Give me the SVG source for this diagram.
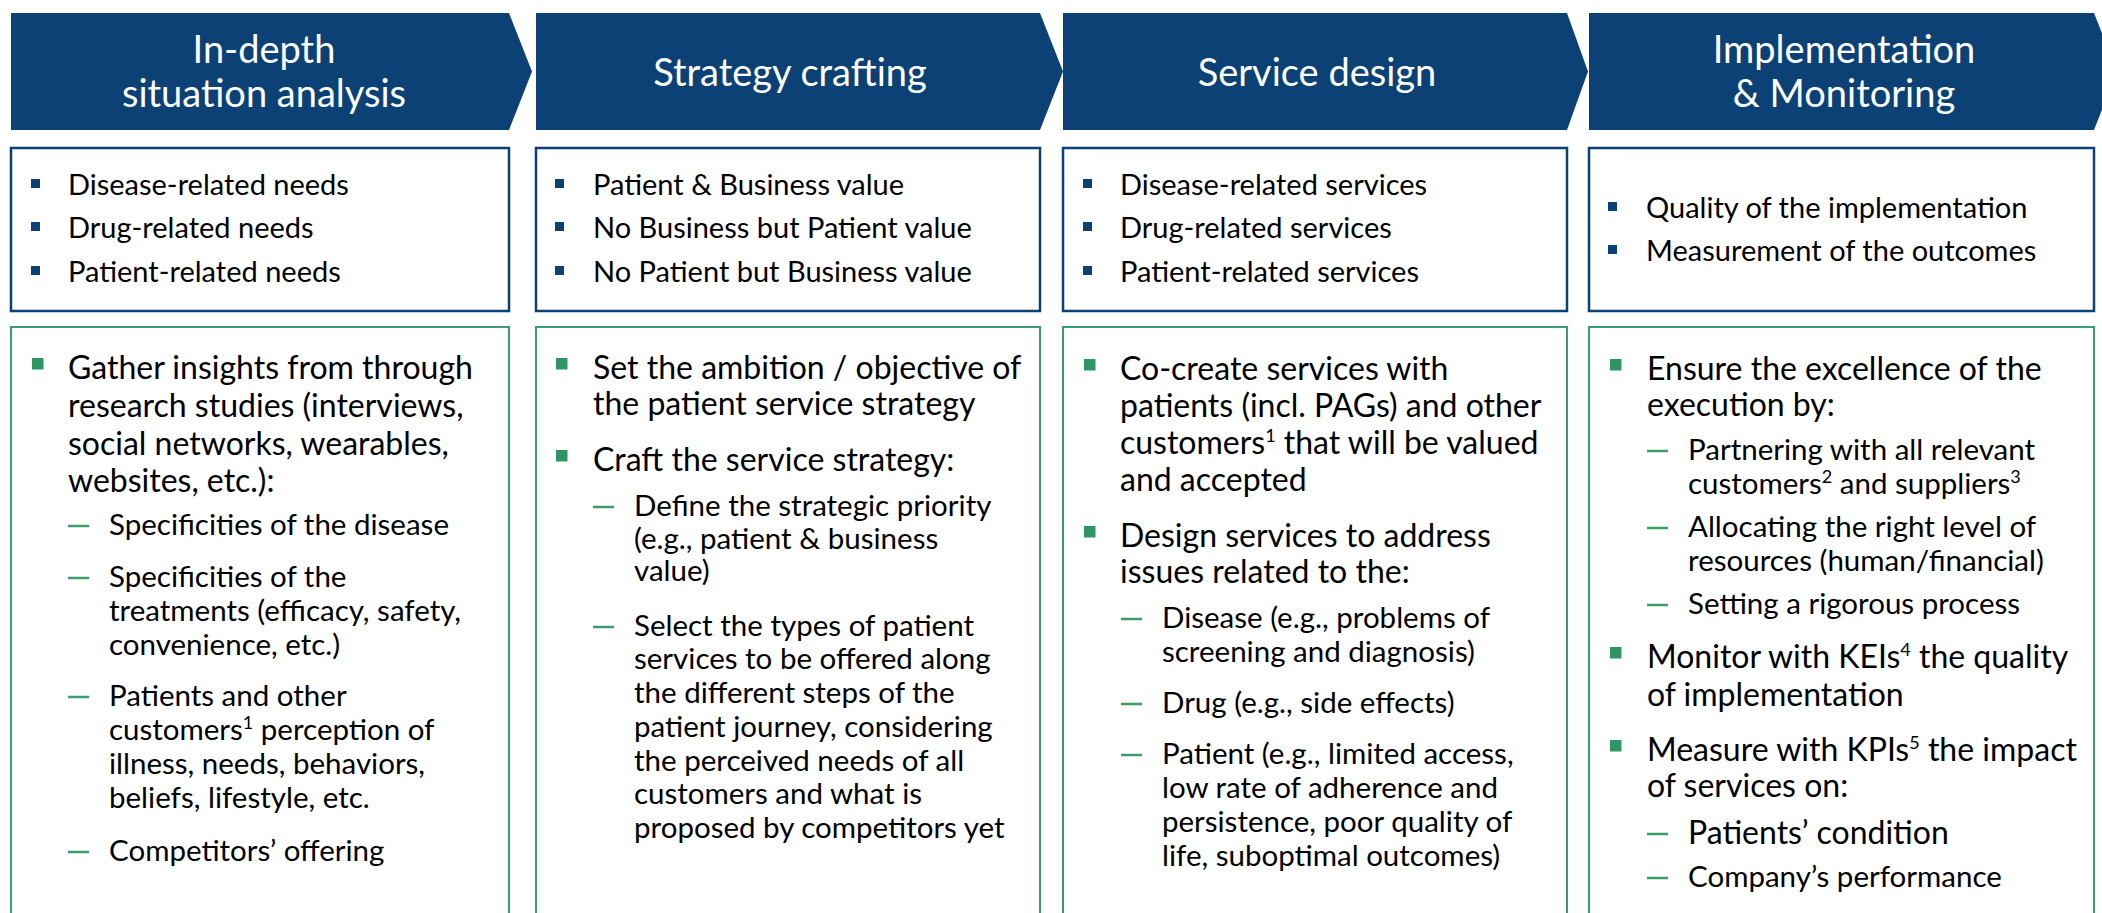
<svg xmlns="http://www.w3.org/2000/svg" width="2102" height="913" viewBox="0 0 2102 913">
<style>
.hdr{fill:#0b4174}
.ht{font-family:Lato,"Open Sans","Liberation Sans",sans-serif;font-size:38px;fill:#fff;text-anchor:middle}
.tb{fill:#fff;stroke:#0b4174;stroke-width:2.5}
.gbx{fill:#fff;stroke:#3a9d6c;stroke-width:2}
.t{font-family:Lato,"Open Sans","Liberation Sans",sans-serif;fill:#000}
.tt{font-size:29px}
.m{font-size:32px}
.s{font-size:29.5px}
.nb{fill:#0b4174}
.gb{fill:#2f9566}
.d{stroke:#3a9d6c;stroke-width:2.5}
.sup{font-size:18px}
</style>
<rect width="2102" height="913" fill="#fff"/>
<g id="connectors"/>

<g id="col1">
  <g id="chevron1">
    <path class="hdr" d="M11,13H509L532,71.5L509,130H11Z"/>
    <text class="ht"><tspan x="264" y="63">In-depth</tspan><tspan x="264" y="107">situation analysis</tspan></text>
  </g>
  <g id="topbox1">
    <rect class="tb" x="11" y="148" width="498" height="163"/>
    <rect class="nb" x="31" y="179" width="9" height="9"/>
    <rect class="nb" x="31" y="222" width="9" height="9"/>
    <rect class="nb" x="31" y="266" width="9" height="9"/>
    <text class="t tt" x="68" y="195">Disease-related needs</text>
    <text class="t tt" x="68" y="238">Drug-related needs</text>
    <text class="t tt" x="68" y="282">Patient-related needs</text>
  </g>
  <g id="greenbox1">
    <rect class="gbx" x="11" y="327" width="498" height="610"/>
    <rect class="gb" x="32" y="358" width="11.5" height="11.5"/>
    <text class="t m"><tspan x="68" y="379">Gather insights from through</tspan><tspan x="68" y="417">research studies (interviews,</tspan><tspan x="68" y="455">social networks, wearables,</tspan><tspan x="68" y="492">websites, etc.):</tspan></text>
    <line class="d" x1="68" y1="526" x2="89" y2="526"/>
    <text class="t s" x="109" y="535">Specificities of the disease</text>
    <line class="d" x1="68" y1="578" x2="89" y2="578"/>
    <text class="t s"><tspan x="109" y="587">Specificities of the</tspan><tspan x="109" y="621">treatments (efficacy, safety,</tspan><tspan x="109" y="655">convenience, etc.)</tspan></text>
    <line class="d" x1="68" y1="697" x2="89" y2="697"/>
    <text class="t s"><tspan x="109" y="706">Patients and other</tspan><tspan x="109" y="740">customers<tspan class="sup" dy="-11">1</tspan><tspan dy="11"> perception of</tspan></tspan><tspan x="109" y="774">illness, needs, behaviors,</tspan><tspan x="109" y="808">beliefs, lifestyle, etc.</tspan></text>
    <line class="d" x1="68" y1="852" x2="89" y2="852"/>
    <text class="t s" x="109" y="861">Competitors’ offering</text>
  </g>
</g>

<g id="col2">
  <g id="chevron2">
    <path class="hdr" d="M536,13H1040L1063,71.5L1040,130H536Z"/>
    <text class="ht" x="790" y="86">Strategy crafting</text>
  </g>
  <g id="topbox2">
    <rect class="tb" x="536" y="148" width="504" height="163"/>
    <rect class="nb" x="555" y="179" width="9" height="9"/>
    <rect class="nb" x="555" y="222" width="9" height="9"/>
    <rect class="nb" x="555" y="266" width="9" height="9"/>
    <text class="t tt" x="593" y="195">Patient &amp; Business value</text>
    <text class="t tt" x="593" y="238">No Business but Patient value</text>
    <text class="t tt" x="593" y="282">No Patient but Business value</text>
  </g>
  <g id="greenbox2">
    <rect class="gbx" x="536" y="327" width="504" height="610"/>
    <rect class="gb" x="556" y="358" width="11.5" height="11.5"/>
    <text class="t m"><tspan x="593" y="379">Set the ambition / objective of</tspan><tspan x="593" y="415">the patient service strategy</tspan></text>
    <rect class="gb" x="556" y="450" width="11.5" height="11.5"/>
    <text class="t m" x="593" y="471">Craft the service strategy:</text>
    <line class="d" x1="593" y1="507" x2="614" y2="507"/>
    <text class="t s"><tspan x="634" y="516">Define the strategic priority</tspan><tspan x="634" y="549">(e.g., patient &amp; business</tspan><tspan x="634" y="581">value)</tspan></text>
    <line class="d" x1="593" y1="627" x2="614" y2="627"/>
    <text class="t s"><tspan x="634" y="636">Select the types of patient</tspan><tspan x="634" y="669">services to be offered along</tspan><tspan x="634" y="703">the different steps of the</tspan><tspan x="634" y="737">patient journey, considering</tspan><tspan x="634" y="771">the perceived needs of all</tspan><tspan x="634" y="804">customers and what is</tspan><tspan x="634" y="838">proposed by competitors yet</tspan></text>
  </g>
</g>

<g id="col3">
  <g id="chevron3">
    <path class="hdr" d="M1063,13H1567L1588,71.5L1567,130H1063Z"/>
    <text class="ht" x="1317" y="86">Service design</text>
  </g>
  <g id="topbox3">
    <rect class="tb" x="1063" y="148" width="504" height="163"/>
    <rect class="nb" x="1083" y="179" width="9" height="9"/>
    <rect class="nb" x="1083" y="222" width="9" height="9"/>
    <rect class="nb" x="1083" y="266" width="9" height="9"/>
    <text class="t tt" x="1120" y="195">Disease-related services</text>
    <text class="t tt" x="1120" y="238">Drug-related services</text>
    <text class="t tt" x="1120" y="282">Patient-related services</text>
  </g>
  <g id="greenbox3">
    <rect class="gbx" x="1063" y="327" width="504" height="610"/>
    <rect class="gb" x="1084" y="359" width="11.5" height="11.5"/>
    <text class="t m"><tspan x="1120" y="380">Co-create services with</tspan><tspan x="1120" y="417">patients (incl. PAGs) and other</tspan><tspan x="1120" y="454">customers<tspan class="sup" dy="-12">1</tspan><tspan dy="12"> that will be valued</tspan></tspan><tspan x="1120" y="491">and accepted</tspan></text>
    <rect class="gb" x="1084" y="526" width="11.5" height="11.5"/>
    <text class="t m"><tspan x="1120" y="547">Design services to address</tspan><tspan x="1120" y="583">issues related to the:</tspan></text>
    <line class="d" x1="1121" y1="619" x2="1142" y2="619"/>
    <text class="t s"><tspan x="1162" y="628">Disease (e.g., problems of</tspan><tspan x="1162" y="662">screening and diagnosis)</tspan></text>
    <line class="d" x1="1121" y1="704" x2="1142" y2="704"/>
    <text class="t s" x="1162" y="713">Drug (e.g., side effects)</text>
    <line class="d" x1="1121" y1="755" x2="1142" y2="755"/>
    <text class="t s"><tspan x="1162" y="764">Patient (e.g., limited access,</tspan><tspan x="1162" y="798">low rate of adherence and</tspan><tspan x="1162" y="832">persistence, poor quality of</tspan><tspan x="1162" y="866">life, suboptimal outcomes)</tspan></text>
  </g>
</g>

<g id="col4">
  <g id="chevron4">
    <path class="hdr" d="M1589,13H2094L2117,71.5L2094,130H1589Z"/>
    <text class="ht"><tspan x="1844" y="63">Implementation</tspan><tspan x="1844" y="107">&amp; Monitoring</tspan></text>
  </g>
  <g id="topbox4">
    <rect class="tb" x="1589" y="148" width="505" height="163"/>
    <rect class="nb" x="1608" y="202" width="9" height="9"/>
    <rect class="nb" x="1608" y="245" width="9" height="9"/>
    <text class="t tt" x="1646" y="218">Quality of the implementation</text>
    <text class="t tt" x="1646" y="261">Measurement of the outcomes</text>
  </g>
  <g id="greenbox4">
    <rect class="gbx" x="1589" y="327" width="505" height="610"/>
    <rect class="gb" x="1610" y="359" width="11.5" height="11.5"/>
    <text class="t m"><tspan x="1647" y="380">Ensure the excellence of the</tspan><tspan x="1647" y="416">execution by:</tspan></text>
    <line class="d" x1="1647" y1="451" x2="1668" y2="451"/>
    <text class="t s"><tspan x="1688" y="460">Partnering with all relevant</tspan><tspan x="1688" y="494">customers<tspan class="sup" dy="-11">2</tspan><tspan dy="11"> and suppliers</tspan><tspan class="sup" dy="-11">3</tspan></tspan></text>
    <line class="d" x1="1647" y1="528" x2="1668" y2="528"/>
    <text class="t s"><tspan x="1688" y="537">Allocating the right level of</tspan><tspan x="1688" y="571">resources (human/financial)</tspan></text>
    <line class="d" x1="1647" y1="605" x2="1668" y2="605"/>
    <text class="t s" x="1688" y="614">Setting a rigorous process</text>
    <rect class="gb" x="1610" y="647" width="11.5" height="11.5"/>
    <text class="t m"><tspan x="1647" y="668">Monitor with KEIs<tspan class="sup" dy="-12">4</tspan><tspan dy="12"> the quality</tspan></tspan><tspan x="1647" y="706">of implementation</tspan></text>
    <rect class="gb" x="1610" y="740" width="11.5" height="11.5"/>
    <text class="t m"><tspan x="1647" y="761">Measure with KPIs<tspan class="sup" dy="-12">5</tspan><tspan dy="12"> the impact</tspan></tspan><tspan x="1647" y="797">of services on:</tspan></text>
    <line class="d" x1="1647" y1="834" x2="1668" y2="834"/>
    <text class="t m" x="1688" y="844">Patients’ condition</text>
    <line class="d" x1="1647" y1="878" x2="1668" y2="878"/>
    <text class="t s" x="1688" y="887">Company’s performance</text>
  </g>
</g>
</svg>
